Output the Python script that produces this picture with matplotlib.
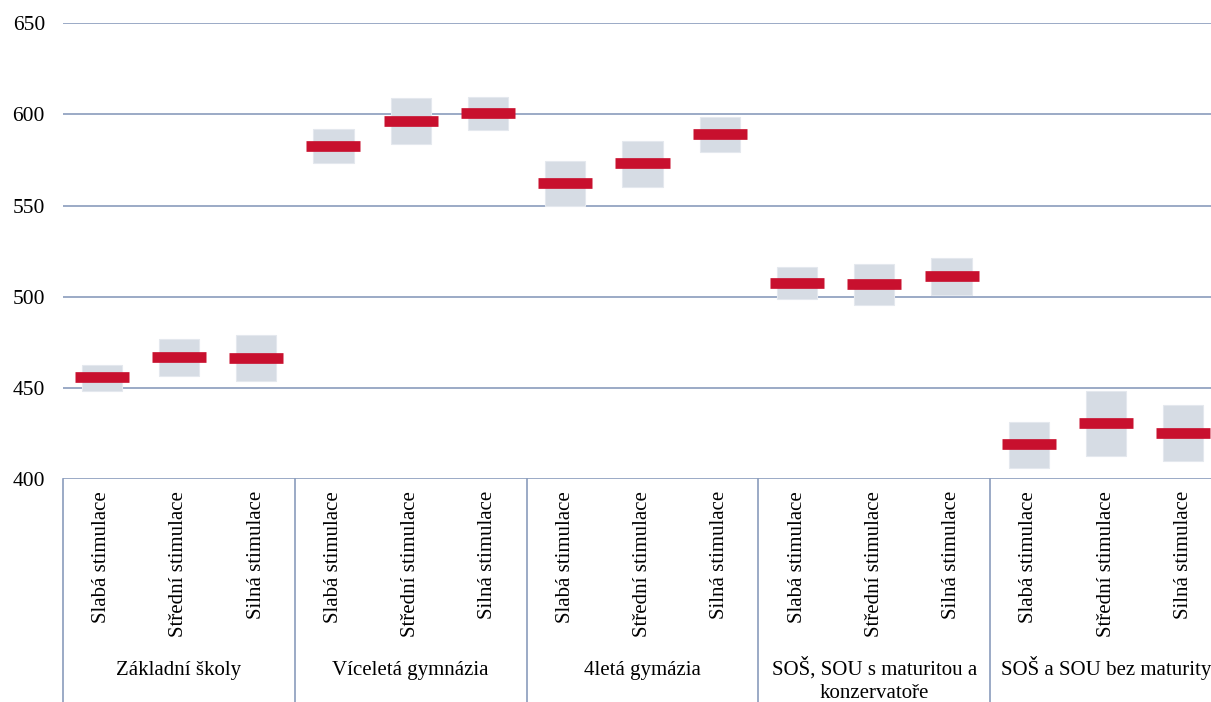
import matplotlib
matplotlib.use("Agg")
import matplotlib.pyplot as plt
import matplotlib.transforms as mtransforms

plt.rcParams['font.family'] = ['Liberation Serif', 'DejaVu Serif']

groups = ["Základní školy", "Víceletá gymnázia", "4letá gymázia",
          "SOŠ, SOU s maturitou a\nkonzervatoře", "SOŠ a SOU bez maturity"]
levels = ["Slabá stimulace", "Střední stimulace", "Silná stimulace"]

means = [455.8, 466.8, 466.2,
         582.5, 596.2, 600.6,
         562.2, 573.2, 589.1,
         507.4, 506.8, 511.2,
         419.1, 430.6, 425.1]
low = [448.5, 456.7, 453.6,
       573.5, 583.8, 591.5,
       549.8, 560.4, 579.4,
       498.6, 495.6, 501.1,
       406.2, 412.8, 409.7]
high = [462.7, 476.8, 478.9,
        591.9, 609.0, 609.7,
        574.3, 585.4, 598.6,
        516.3, 518.0, 521.1,
        431.1, 448.1, 440.5]
yticks = [400, 450, 500, 550, 600, 650]

W, H = 1211, 702
fig = plt.figure(figsize=(W / 100, H / 100), dpi=100)
left_px, right_px, top_px, bottom_px = 63, 1222, 23.3, 479
ax = fig.add_axes([left_px / W, (H - bottom_px) / H,
                   (right_px - left_px) / W, (bottom_px - top_px) / H])

n = len(means)
xs = [i + 0.5 for i in range(n)]
heights = [h - l for h, l in zip(high, low)]

grid_color = '#8A9CBC'
for yv in yticks:
    ax.axhline(yv, color=grid_color, lw=1.2, zorder=1)

ax.bar(xs, heights, bottom=low, width=0.52, color='#D6DCE4',
       edgecolor='#E4E8EE', linewidth=0.8, zorder=2)
ax.hlines(means, [x - 0.35 for x in xs], [x + 0.35 for x in xs],
          color='#C8102E', lw=7.7, capstyle='butt', zorder=3)

ax.set_xlim(0, n)
ax.set_ylim(400, 650)
ax.set_yticks(yticks)
ax.set_xticks([])
for s in ax.spines.values():
    s.set_visible(False)
ax.tick_params(axis='y', length=0, pad=13, labelsize=15.5)

ax_h_px = bottom_px - top_px
trans = mtransforms.blended_transform_factory(ax.transData, ax.transAxes)

# group dividers
bottom_axes = -(H - bottom_px) / ax_h_px
for xv in range(0, n + 1, 3):
    ax.plot([xv, xv], [0, bottom_axes], transform=trans, color=grid_color,
            lw=1.2, clip_on=False, zorder=1)

# category labels
for i, x in enumerate(xs):
    ax.text(x, -12 / ax_h_px, levels[i % 3], rotation=90, ha='center', va='top',
            fontsize=15, transform=trans, clip_on=False)

# group labels, one text per line so that baselines align
for g, name in enumerate(groups):
    for k, line in enumerate(name.split("\n")):
        base_px = 675 + 23 * k
        ax.text(3 * g + 1.5, -(base_px - bottom_px) / ax_h_px, line, ha='center',
                va='baseline', fontsize=15, transform=trans, clip_on=False)

fig.savefig("out.png", dpi=100)
